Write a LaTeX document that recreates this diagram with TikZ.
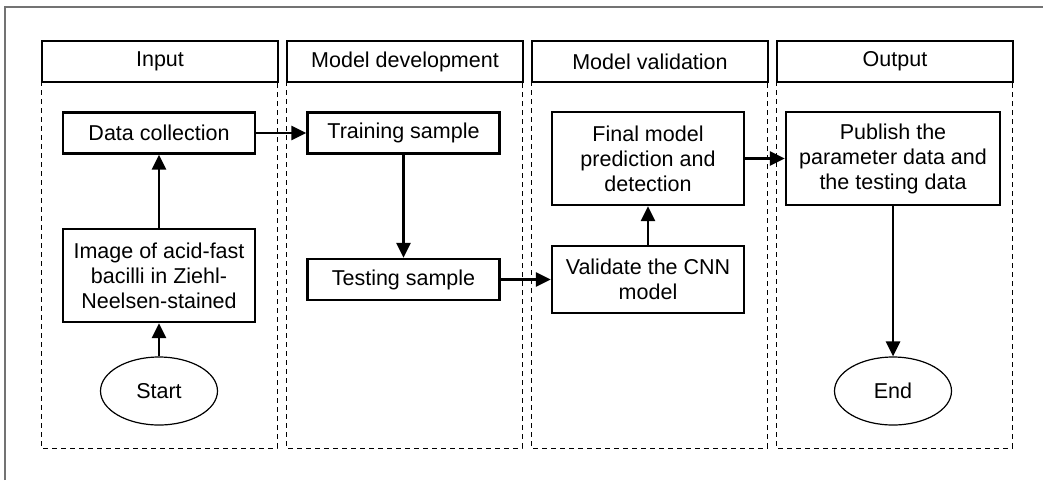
\documentclass[tikz,border=0pt]{standalone}
\usepackage{fontspec}
\setmainfont{Liberation Sans}
\usetikzlibrary{arrows.meta,shapes.geometric}
\begin{document}
\begin{tikzpicture}[x=1pt,y=-1pt,
  every node/.style={font=\fontsize{21.5}{25}\selectfont},
  header/.style={draw,line width=2pt,minimum width=236pt,minimum height=41pt,inner sep=0pt,anchor=north west},
  lane/.style={draw,dashed,line width=1pt,dash pattern=on 5pt off 4pt},
  procbox/.style={draw,line width=2.2pt,minimum width=192pt,align=center,inner sep=0pt},
  term/.style={draw,ellipse,line width=1.2pt,minimum width=117pt,minimum height=68pt,inner sep=0pt},
  flow/.style={line width=2.8pt,-{Triangle[length=15pt,width=14pt]}}]
\useasboundingbox (0,0) rectangle (1043,480);
\draw[gray!90!black,line width=2.5pt] (5,480) -- (5,7) -- (1043,7);
% lanes
\foreach \x in {41,286,531,776}{
  \draw[lane] (\x,81) -- (\x,448) -- (\x+236,448) -- (\x+236,81);
}
\node[header] (h1) at (41,40) {Input};
\node[header] (h2) at (286,40) {Model development};
\node[header] (h3) at (531,40) {Model validation};
\node[header] (h4) at (776,40) {Output};
% nodes
\node[procbox,minimum height=41pt] (dc) at (159,133) {Data collection};
\node[procbox,minimum height=93pt] (img) at (159,275.5) {Image of acid-fast\\bacilli in Ziehl-\\Neelsen-stained};
\node[term] (start) at (159,391) {Start};
\node[procbox,minimum height=41pt] (tr) at (403.5,133) {Training sample};
\node[procbox,minimum height=41pt] (te) at (403.5,279.5) {Testing sample};
\node[procbox,minimum height=93pt] (fm) at (648,158.5) {Final model\\prediction and\\detection};
\node[procbox,minimum height=67pt] (va) at (648,279.5) {Validate the CNN\\model};
\node[procbox,minimum width=214pt,minimum height=93pt] (pub) at (893,158.5) {Publish the\\parameter data and\\the testing data};
\node[term] (end) at (893,391) {End};
% connectors
\draw[flow] (start) -- (img);
\draw[flow] (img) -- (dc);
\draw[flow] (dc) -- (tr);
\draw[flow] (tr) -- (te);
\draw[flow] (te) -- (va);
\draw[flow] (va) -- (fm);
\draw[flow] (fm) -- (pub);
\draw[flow] (pub) -- (end);
\end{tikzpicture}
\end{document}
